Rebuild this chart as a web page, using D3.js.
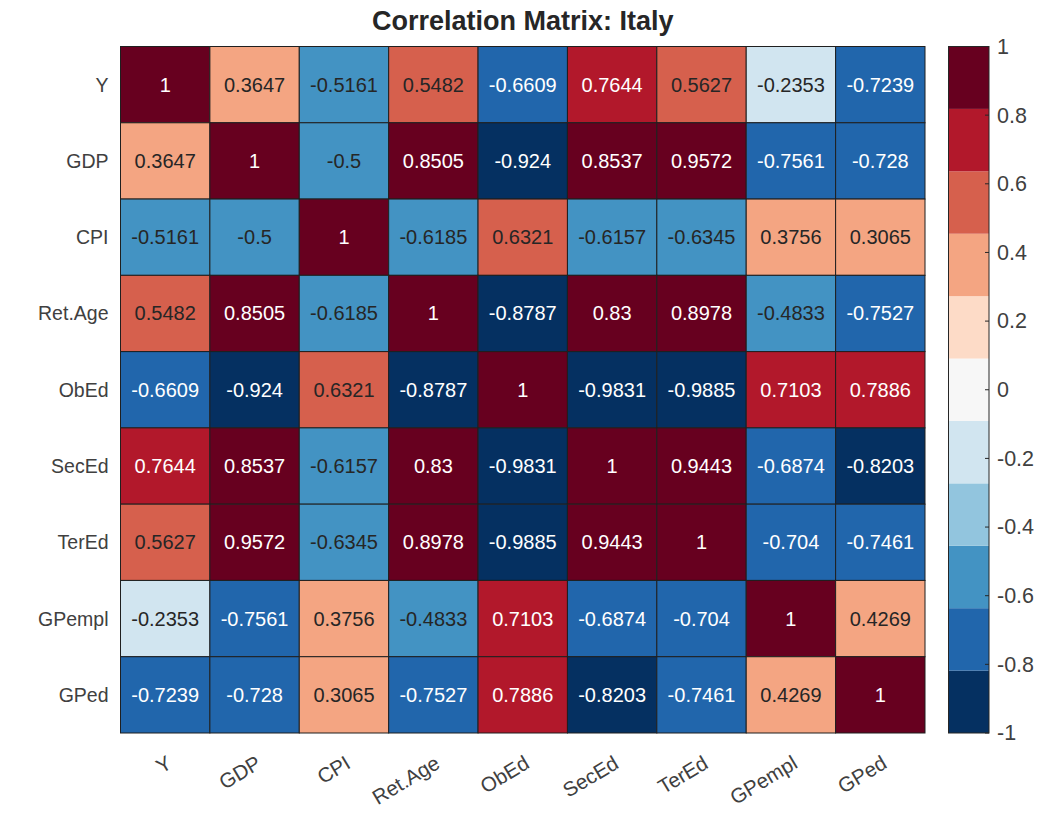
<!DOCTYPE html>
<html>
<head>
<meta charset="utf-8">
<script src="https://cdn.jsdelivr.net/npm/d3@7"></script>
<style>
  html, body { margin: 0; padding: 0; background: #ffffff; }
  svg { display: block; font-family: "Liberation Sans", Arial, sans-serif; }
</style>
</head>
<body>
<svg id="chart" width="1046" height="820"></svg>
<script>
// Variable names (rows top to bottom, columns left to right)
const variables = ["Y", "GDP", "CPI", "Ret.Age", "ObEd", "SecEd", "TerEd", "GPempl", "GPed"];

// Correlation coefficients, one array per row
const rowY      = [1, 0.3647, -0.5161, 0.5482, -0.6609, 0.7644, 0.5627, -0.2353, -0.7239];
const rowGDP    = [0.3647, 1, -0.5, 0.8505, -0.924, 0.8537, 0.9572, -0.7561, -0.728];
const rowCPI    = [-0.5161, -0.5, 1, -0.6185, 0.6321, -0.6157, -0.6345, 0.3756, 0.3065];
const rowRetAge = [0.5482, 0.8505, -0.6185, 1, -0.8787, 0.83, 0.8978, -0.4833, -0.7527];
const rowObEd   = [-0.6609, -0.924, 0.6321, -0.8787, 1, -0.9831, -0.9885, 0.7103, 0.7886];
const rowSecEd  = [0.7644, 0.8537, -0.6157, 0.83, -0.9831, 1, 0.9443, -0.6874, -0.8203];
const rowTerEd  = [0.5627, 0.9572, -0.6345, 0.8978, -0.9885, 0.9443, 1, -0.704, -0.7461];
const rowGPempl = [-0.2353, -0.7561, 0.3756, -0.4833, 0.7103, -0.6874, -0.704, 1, 0.4269];
const rowGPed   = [-0.7239, -0.728, 0.3065, -0.7527, 0.7886, -0.8203, -0.7461, 0.4269, 1];

// Colorbar tick values
const colorbarTicks = [1, 0.8, 0.6, 0.4, 0.2, 0, -0.2, -0.4, -0.6, -0.8, -1];

// Diverging palette, 11 classes from -1 (blue) to +1 (red)
const palette = ["#053061", "#2166ac", "#4393c3", "#92c5de", "#d1e5f0", "#f7f7f7",
                 "#fddbc7", "#f4a582", "#d6604d", "#b2182b", "#67001f"];

const rows = [rowY, rowGDP, rowCPI, rowRetAge, rowObEd, rowSecEd, rowTerEd, rowGPempl, rowGPed];
const cells = [];
rows.forEach((r, i) => r.forEach((v, j) => cells.push({ row: variables[i], col: variables[j], value: v })));

const svg = d3.select("#chart");
const plot = { left: 120.5, right: 925, top: 46.5, bottom: 733 };

const x = d3.scaleBand().domain(variables).range([plot.left, plot.right]).padding(0);
const y = d3.scaleBand().domain(variables).range([plot.top, plot.bottom]).padding(0);
const color = d3.scaleQuantize().domain([-1, 1]).range(palette);
const darkIdx = new Set([0, 1, 9, 10]);
const textColor = v => darkIdx.has(palette.indexOf(color(v))) ? "#ffffff" : "#262626";

// Title
svg.append("text")
  .attr("x", (plot.left + plot.right) / 2)
  .attr("y", 30)
  .attr("text-anchor", "middle")
  .attr("font-size", 27)
  .attr("font-weight", "bold")
  .attr("fill", "#262626")
  .text("Correlation Matrix: Italy");

// Cells
const g = svg.append("g");
g.selectAll("rect.cell")
  .data(cells)
  .join("rect")
  .attr("class", "cell")
  .attr("x", d => x(d.col))
  .attr("y", d => y(d.row))
  .attr("width", x.bandwidth())
  .attr("height", y.bandwidth())
  .attr("fill", d => color(d.value))
  .attr("stroke", "#1f1f1f")
  .attr("stroke-width", 1);

g.selectAll("text.val")
  .data(cells)
  .join("text")
  .attr("class", "val")
  .attr("x", d => x(d.col) + x.bandwidth() / 2)
  .attr("y", d => y(d.row) + y.bandwidth() / 2)
  .attr("text-anchor", "middle")
  .attr("dominant-baseline", "central")
  .attr("font-size", 20)
  .attr("fill", d => textColor(d.value))
  .text(d => String(d.value));

// Row labels
svg.append("g")
  .selectAll("text")
  .data(variables)
  .join("text")
  .attr("x", plot.left - 12)
  .attr("y", d => y(d) + y.bandwidth() / 2)
  .attr("text-anchor", "end")
  .attr("dominant-baseline", "central")
  .attr("font-size", 19.5)
  .attr("fill", "#404040")
  .text(d => d);

// Column labels, rotated
svg.append("g")
  .selectAll("text")
  .data(variables)
  .join("text")
  .attr("transform", d => `translate(${x(d) + x.bandwidth() / 2 + 8},${plot.bottom + 34}) rotate(-31)`)
  .attr("text-anchor", "end")
  .attr("font-size", 20.5)
  .attr("fill", "#404040")
  .text(d => d);

// Colorbar
const cb = { left: 948.5, right: 989, top: plot.top, bottom: plot.bottom };
const cbScale = d3.scaleLinear().domain([-1, 1]).range([cb.bottom, cb.top]);
const bands = palette.map(c => {
  const [lo, hi] = color.invertExtent(c);
  return { c, lo, hi };
});
const cbg = svg.append("g");
cbg.selectAll("rect")
  .data(bands)
  .join("rect")
  .attr("x", cb.left)
  .attr("width", cb.right - cb.left)
  .attr("y", d => cbScale(d.hi))
  .attr("height", d => cbScale(d.lo) - cbScale(d.hi))
  .attr("fill", d => d.c);
cbg.append("rect")
  .attr("x", cb.left).attr("y", cb.top)
  .attr("width", cb.right - cb.left).attr("height", cb.bottom - cb.top)
  .attr("fill", "none").attr("stroke", "#262626").attr("stroke-width", 1);

const axis = d3.axisRight(cbScale)
  .tickValues(colorbarTicks)
  .tickSize(0)
  .tickPadding(8)
  .tickFormat(d => String(d));
const ax = svg.append("g")
  .attr("transform", `translate(${cb.right},0)`)
  .call(axis);
ax.select(".domain").remove();
ax.selectAll("text").attr("font-size", 21.5).attr("fill", "#404040").attr("font-family", "Liberation Sans, Arial, sans-serif");
// inward tick marks
svg.append("g")
  .selectAll("line")
  .data(colorbarTicks)
  .join("line")
  .attr("x1", cb.right - 4).attr("x2", cb.right)
  .attr("y1", d => cbScale(d)).attr("y2", d => cbScale(d))
  .attr("stroke", "#262626").attr("stroke-width", 1);
</script>
</body>
</html>
